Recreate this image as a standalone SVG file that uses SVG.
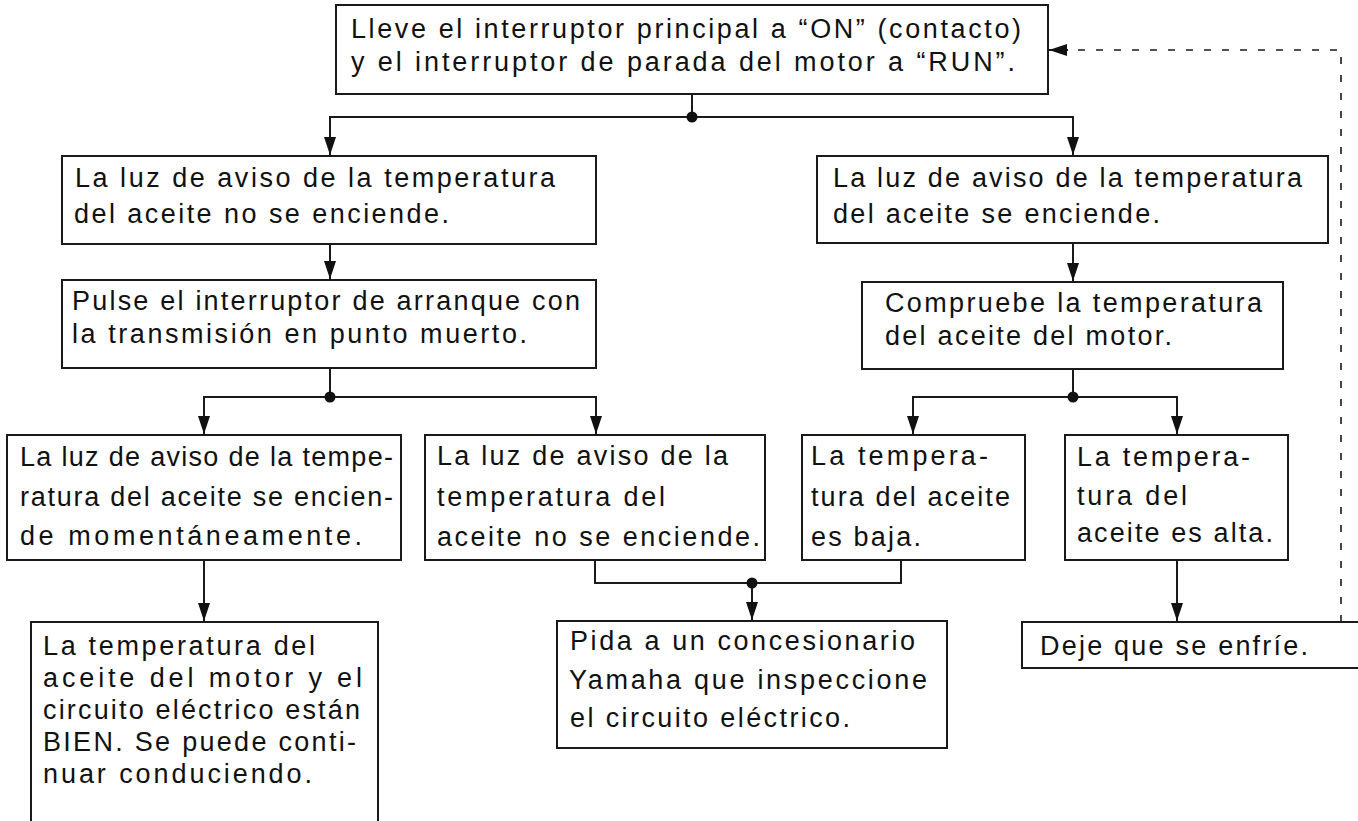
<svg xmlns="http://www.w3.org/2000/svg" width="1358" height="821" viewBox="0 0 1358 821">
<defs>
<style>
.box{fill:#fff;stroke:#1a1a1a;stroke-width:2}
.t{font-family:"Liberation Sans",Arial,sans-serif;font-size:27px;fill:#111}
.c{fill:none;stroke:#1a1a1a;stroke-width:2}
.d{fill:none;stroke:#1a1a1a;stroke-width:1.6;stroke-dasharray:7 11}
.dot{fill:#111}
</style>
<marker id="ah" markerWidth="18" markerHeight="12" refX="18" refY="6" orient="auto" markerUnits="userSpaceOnUse">
<path d="M0,0 L18,6 L0,12 Z" fill="#111"/>
</marker>
</defs>
<rect width="1358" height="821" fill="#fff"/>

<g id="connectors">
<path class="c" d="M692,94 V117"/>
<path class="c" d="M692,117 H330 V155" marker-end="url(#ah)"/>
<path class="c" d="M692,117 H1073 V155" marker-end="url(#ah)"/>
<path class="c" d="M330,244 V279" marker-end="url(#ah)"/>
<path class="c" d="M1073,243 V281" marker-end="url(#ah)"/>
<path class="c" d="M330,368 V397"/>
<path class="c" d="M330,397 H204 V434" marker-end="url(#ah)"/>
<path class="c" d="M330,397 H596 V434" marker-end="url(#ah)"/>
<path class="c" d="M1073,369 V397"/>
<path class="c" d="M1073,397 H913 V434" marker-end="url(#ah)"/>
<path class="c" d="M1073,397 H1177 V434" marker-end="url(#ah)"/>
<path class="c" d="M204,560 V621" marker-end="url(#ah)"/>
<path class="c" d="M595,560 V583 H901 V560"/>
<path class="c" d="M752,583 V620" marker-end="url(#ah)"/>
<path class="c" d="M1177,560 V621" marker-end="url(#ah)"/>
<path class="d" d="M1341,622 V50 H1066"/>
<path class="c" d="M1068,50 H1049" marker-end="url(#ah)"/>
<circle class="dot" cx="692" cy="117" r="5.5"/>
<circle class="dot" cx="330" cy="397" r="5.5"/>
<circle class="dot" cx="1073" cy="397" r="5.5"/>
<circle class="dot" cx="752" cy="583" r="5.5"/>
</g>

<g id="n-start">
<rect class="box" x="336" y="5" width="712" height="89"/>
<text class="t" x="351" y="38" textLength="670" lengthAdjust="spacing">Lleve el interruptor principal a “ON” (contacto)</text>
<text class="t" x="351" y="71" textLength="664" lengthAdjust="spacing">y el interruptor de parada del motor a “RUN”.</text>
</g>

<g id="n-noenc1">
<rect class="box" x="62" y="156" width="534" height="88"/>
<text class="t" x="75" y="187" textLength="480" lengthAdjust="spacing">La luz de aviso de la temperatura</text>
<text class="t" x="74" y="223" textLength="375" lengthAdjust="spacing">del aceite no se enciende.</text>
</g>

<g id="n-enc">
<rect class="box" x="817" y="156" width="511" height="87"/>
<text class="t" x="833" y="187" textLength="469" lengthAdjust="spacing">La luz de aviso de la temperatura</text>
<text class="t" x="833" y="223" textLength="327" lengthAdjust="spacing">del aceite se enciende.</text>
</g>

<g id="n-pulse">
<rect class="box" x="62" y="280" width="534" height="88"/>
<text class="t" x="72" y="310" textLength="508" lengthAdjust="spacing">Pulse el interruptor de arranque con</text>
<text class="t" x="72" y="343" textLength="455" lengthAdjust="spacing">la transmisión en punto muerto.</text>
</g>

<g id="n-compruebe">
<rect class="box" x="862" y="282" width="421" height="87"/>
<text class="t" x="885" y="312" textLength="377" lengthAdjust="spacing">Compruebe la temperatura</text>
<text class="t" x="885" y="345" textLength="287" lengthAdjust="spacing">del aceite del motor.</text>
</g>

<g id="n-momentaneo">
<rect class="box" x="7" y="435" width="394" height="125"/>
<text class="t" x="20" y="466" textLength="373" lengthAdjust="spacing">La luz de aviso de la tempe-</text>
<text class="t" x="20" y="506" textLength="373" lengthAdjust="spacing">ratura del aceite se encien-</text>
<text class="t" x="20" y="545" textLength="342" lengthAdjust="spacing">de momentáneamente.</text>
</g>

<g id="n-noenc2">
<rect class="box" x="425" y="435" width="340" height="125"/>
<text class="t" x="437" y="465" textLength="291" lengthAdjust="spacing">La luz de aviso de la</text>
<text class="t" x="437" y="506" textLength="228" lengthAdjust="spacing">temperatura del</text>
<text class="t" x="437" y="546" textLength="323" lengthAdjust="spacing">aceite no se enciende.</text>
</g>

<g id="n-baja">
<rect class="box" x="802" y="435" width="223" height="125"/>
<text class="t" x="811" y="465" textLength="177" lengthAdjust="spacing">La tempera-</text>
<text class="t" x="811" y="506" textLength="199" lengthAdjust="spacing">tura del aceite</text>
<text class="t" x="811" y="546" textLength="110" lengthAdjust="spacing">es baja.</text>
</g>

<g id="n-alta">
<rect class="box" x="1065" y="435" width="223" height="125"/>
<text class="t" x="1077" y="466" textLength="173" lengthAdjust="spacing">La tempera-</text>
<text class="t" x="1077" y="505" textLength="110" lengthAdjust="spacing">tura del</text>
<text class="t" x="1077" y="542" textLength="196" lengthAdjust="spacing">aceite es alta.</text>
</g>

<g id="n-bien">
<path class="box" d="M31,830 V622 H378 V830"/>
<text class="t" x="43" y="655" textLength="272" lengthAdjust="spacing">La temperatura del</text>
<text class="t" x="43" y="687" textLength="319" lengthAdjust="spacing">aceite del motor y el</text>
<text class="t" x="43" y="719" textLength="317" lengthAdjust="spacing">circuito eléctrico están</text>
<text class="t" x="43" y="751" textLength="313" lengthAdjust="spacing">BIEN. Se puede conti-</text>
<text class="t" x="43" y="783" textLength="269" lengthAdjust="spacing">nuar conduciendo.</text>
</g>

<g id="n-pida">
<rect class="box" x="557" y="621" width="390" height="127"/>
<text class="t" x="570" y="650" textLength="345" lengthAdjust="spacing">Pida a un concesionario</text>
<text class="t" x="569" y="689" textLength="358" lengthAdjust="spacing">Yamaha que inspeccione</text>
<text class="t" x="570" y="727" textLength="280" lengthAdjust="spacing">el circuito eléctrico.</text>
</g>

<g id="n-enfrie">
<path class="box" d="M1370,622 H1022 V668 H1370"/>
<text class="t" x="1040" y="655" textLength="268" lengthAdjust="spacing">Deje que se enfríe.</text>
</g>
</svg>
